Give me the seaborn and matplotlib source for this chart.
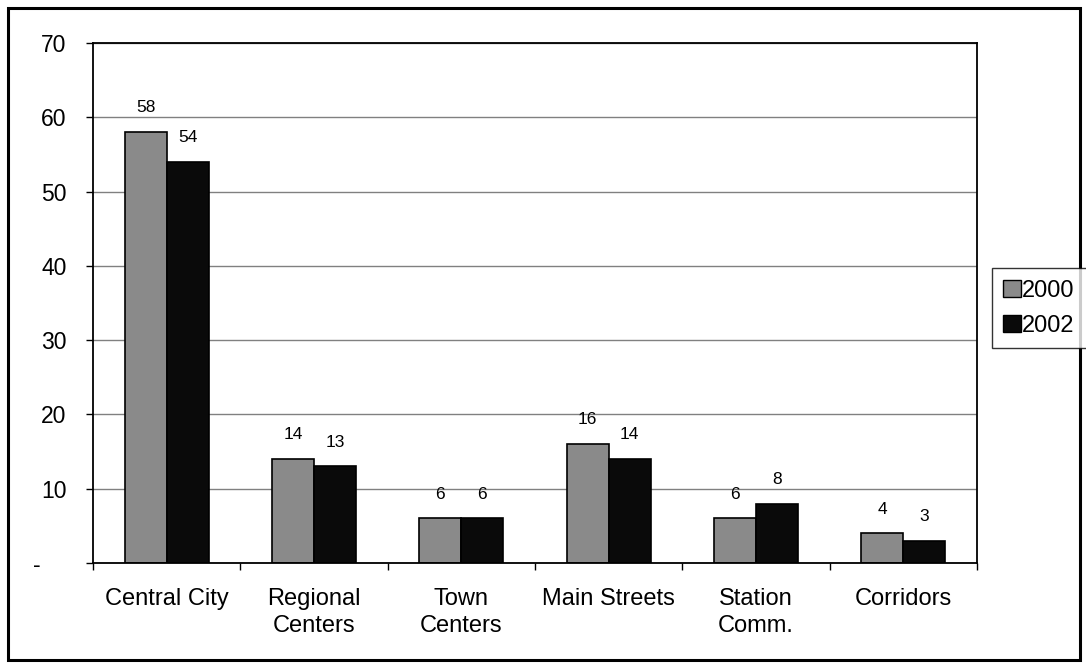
import matplotlib
matplotlib.use("Agg")
import matplotlib.pyplot as plt
import matplotlib.patches as mpatches
import seaborn as sns
import pandas as pd

# Chart data
categories = ["Central City", "Regional\nCenters", "Town\nCenters", "Main Streets",
              "Station\nComm.", "Corridors"]
years = ["2000", "2002"]
values_2000 = [58, 14, 6, 16, 6, 4]
values_2002 = [54, 13, 6, 14, 8, 3]
y_ticks = [0, 10, 20, 30, 40, 50, 60, 70]
y_tick_labels = ["-    ", "10", "20", "30", "40", "50", "60", "70"]

df = pd.DataFrame({
    "category": categories * 2,
    "year": [years[0]] * len(categories) + [years[1]] * len(categories),
    "value": values_2000 + values_2002,
})

sns.set_theme(style="white")
plt.rcParams["font.family"] = ["Liberation Sans", "DejaVu Sans"]
plt.rcParams["text.color"] = "black"
plt.rcParams["xtick.color"] = "black"
plt.rcParams["ytick.color"] = "black"
plt.rcParams["xtick.labelcolor"] = "black"
plt.rcParams["ytick.labelcolor"] = "black"

fig = plt.figure(figsize=(10.86, 6.70), dpi=100)
ax = fig.add_axes([0.0856, 0.1597, 0.9140 - 0.0856 - 0.0144, 0.9358 - 0.1597])

palette = {"2000": "#8a8a8a", "2002": "#0a0a0a"}
sns.barplot(data=df, x="category", y="value", hue="year", order=categories,
            hue_order=years, palette=palette, width=0.57, saturation=1,
            edgecolor="black", linewidth=1.2, ax=ax, legend=False)

# value labels above bars
for cont in ax.containers:
    ax.bar_label(cont, fmt="%d", padding=12, fontsize=12.5, color="black")

ax.set_ylim(0, 70)
ax.set_xlim(-0.5, len(categories) - 0.5)
ax.set_yticks(y_ticks)
ax.set_yticklabels(y_tick_labels, fontsize=16.5)
ax.set_xticks(range(len(categories)))
ax.set_xticklabels(categories, fontsize=17, linespacing=1.3)
ax.set_xlabel("")
ax.set_ylabel("")

# gridlines and frame
ax.yaxis.grid(True, color="#808080", linewidth=1)
ax.set_axisbelow(True)
for sp in ax.spines.values():
    sp.set_visible(True)
    sp.set_color("black")
    sp.set_linewidth(1.3)

# category separators as minor ticks on x, outward ticks on y
ax.set_xticks([i - 0.5 for i in range(len(categories) + 1)], minor=True)
ax.tick_params(axis="x", which="major", length=0, pad=18)
ax.tick_params(axis="x", which="minor", length=5, width=1, color="black",
               direction="out", bottom=True)
ax.tick_params(axis="y", which="major", length=5, width=1, color="black",
               direction="out", left=True, pad=14)

# legend
handles = [mpatches.Patch(facecolor=palette[y], edgecolor="black", linewidth=1, label=y)
           for y in years]
leg = fig.legend(handles=handles, loc="center left", bbox_to_anchor=(0.913, 0.540),
                 fontsize=17, frameon=True, fancybox=False, handlelength=0.75,
                 handleheight=0.75, handletextpad=0.05, borderpad=0.5,
                 labelspacing=0.55, borderaxespad=0)
leg.get_frame().set_edgecolor("black")
leg.get_frame().set_linewidth(1)

# outer chart border
fig.patches.append(mpatches.Rectangle((8 / 1086, 10 / 670), 1072 / 1086, 652 / 670,
                                      transform=fig.transFigure, fill=False,
                                      edgecolor="black", linewidth=2.2))

fig.savefig("out.png", dpi=100)
